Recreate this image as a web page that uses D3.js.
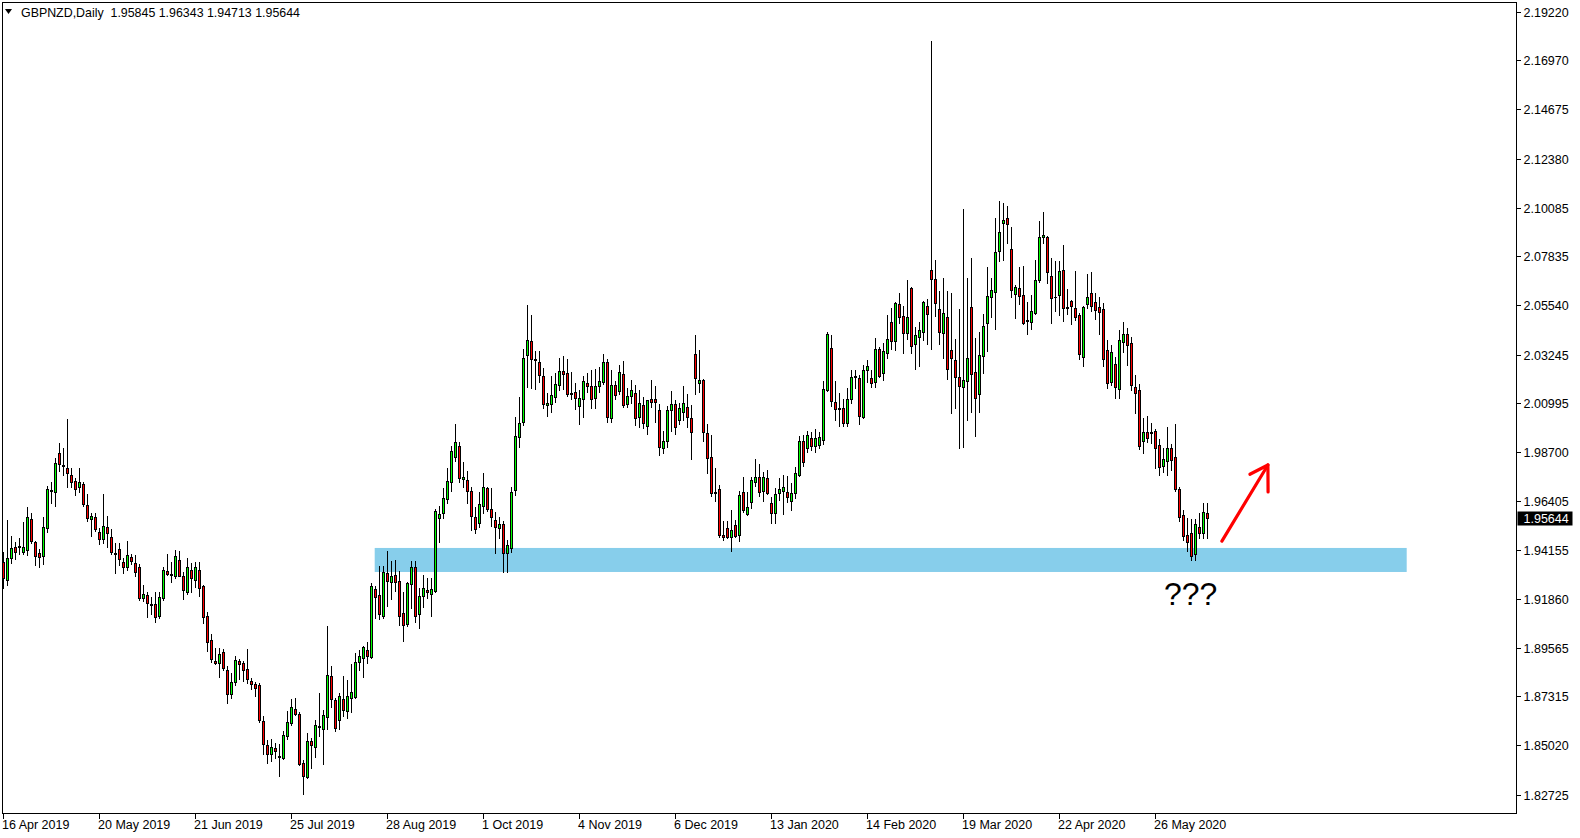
<!DOCTYPE html>
<html><head><meta charset="utf-8">
<script src="https://cdn.jsdelivr.net/npm/d3@7"></script>
<style>html,body{margin:0;padding:0;background:#fff;overflow:hidden}svg{display:block}</style>
</head><body>
<script>
// ---------- data ----------
const symbolTitle = "GBPNZD,Daily";
const lastQuote = [1.95845, 1.96343, 1.94713, 1.95644]; // O H L C of last bar
const dateLabels = ["16 Apr 2019","20 May 2019","21 Jun 2019","25 Jul 2019","28 Aug 2019","1 Oct 2019","4 Nov 2019","6 Dec 2019","13 Jan 2020","14 Feb 2020","19 Mar 2020","22 Apr 2020","26 May 2020"];
const dateLabelBar = [0,24,48,72,96,120,144,168,192,216,240,264,288];
const priceTicks = [2.19220,2.16970,2.14675,2.12380,2.10085,2.07835,2.05540,2.03245,2.00995,1.98700,1.96405,1.94155,1.91860,1.89565,1.87315,1.85020,1.82725];

const opens = [1.9357,1.9274,1.9376,1.9427,1.9432,1.9404,1.9413,1.9558,1.9451,1.9399,1.9385,1.9516,1.9693,1.9684,1.9866,1.9810,1.9796,1.9763,1.9735,1.9707,
1.9721,1.9623,1.9558,1.9567,1.9497,1.9465,1.9521,1.9474,1.9399,1.9418,1.9357,1.9334,1.9381,1.9353,1.9334,1.9190,1.9204,1.9162,1.9162,1.9106,
1.9190,1.9316,1.9297,1.9292,1.9367,1.9292,1.9218,1.9320,1.9274,1.9320,1.9246,1.9106,1.8994,1.8896,1.8886,1.8938,1.8854,1.8742,1.8798,1.8896,
1.8886,1.8858,1.8803,1.8789,1.8784,1.8616,1.8504,1.8462,1.8490,1.8453,1.8443,1.8546,1.8607,1.8672,1.8649,1.8420,1.8355,1.8523,1.8495,1.8593,
1.8579,1.8635,1.8826,1.8714,1.8621,1.8718,1.8663,1.8723,1.8728,1.8891,1.8910,1.8947,1.8914,1.9232,1.9204,1.9106,1.9306,1.9264,1.9297,1.9269,
1.9120,1.9069,1.9255,1.9334,1.9115,1.9199,1.9227,1.9208,1.9222,1.9562,1.9586,1.9651,1.9730,1.9847,1.9898,1.9744,1.9740,1.9689,1.9567,1.9539,
1.9618,1.9703,1.9605,1.9553,1.9516,1.9535,1.9399,1.9423,1.9693,1.9940,2.0010,2.0323,2.0388,2.0304,2.0290,2.0225,2.0090,2.0094,2.0127,2.0183,
2.0248,2.0239,2.0145,2.0150,2.0085,2.0118,2.0192,2.0178,2.0122,2.0178,2.0197,2.0290,2.0029,2.0183,2.0155,2.0234,2.0094,2.0132,2.0145,2.0034,
2.0090,1.9992,2.0118,2.0118,2.0066,1.9889,1.9922,2.0066,2.0094,2.0020,2.0057,2.0080,2.0029,2.0327,2.0192,2.0206,1.9959,1.9847,1.9684,1.9698,
1.9484,1.9516,1.9474,1.9530,1.9484,1.9684,1.9581,1.9637,1.9730,1.9754,1.9689,1.9749,1.9632,1.9586,1.9679,1.9689,1.9684,1.9642,1.9679,1.9763,
1.9922,1.9889,1.9936,1.9898,1.9903,1.9926,2.0159,2.0355,2.0104,2.0076,2.0076,2.0006,2.0118,2.0225,2.0215,2.0034,2.0253,2.0215,2.0197,2.0351,
2.0239,2.0332,2.0477,2.0388,2.0560,2.0505,2.0425,2.0635,2.0374,2.0407,2.0430,2.0551,2.0719,2.0677,2.0537,2.0425,2.0500,2.0346,2.0299,2.0220,
2.0173,2.0201,2.0547,2.0243,2.0141,2.0318,2.0472,2.0593,2.0617,2.0808,2.0938,2.0961,2.0817,2.0607,2.0635,2.0603,2.0486,2.0477,2.0519,2.0672,
2.0873,2.0873,2.0691,2.0593,2.0603,2.0719,2.0547,2.0575,2.0542,2.0509,2.0313,2.0561,2.0612,2.0570,2.0547,2.0537,2.0346,2.0197,2.0281,2.0164,
2.0383,2.0421,2.0379,2.0173,2.0159,1.9922,1.9964,1.9964,1.9968,1.9903,1.9805,1.9828,1.9889,1.9847,1.9698,1.9577,1.9484,1.9493,1.9395,1.9521,
1.9493,1.95845];

const highs = [1.9404,1.9553,1.9479,1.9451,1.9469,1.9544,1.9614,1.9586,1.9455,1.9418,1.9567,1.9712,1.9730,1.9842,1.9912,1.9889,2.0024,1.9796,1.9749,1.9796,
1.9730,1.9674,1.9586,1.9586,1.9516,1.9674,1.9572,1.9511,1.9446,1.9446,1.9376,1.9455,1.9395,1.9390,1.9348,1.9250,1.9218,1.9194,1.9218,1.9218,
1.9334,1.9395,1.9357,1.9413,1.9409,1.9311,1.9376,1.9353,1.9357,1.9357,1.9250,1.9124,1.9022,1.8956,1.8956,1.8952,1.8872,1.8840,1.8919,1.8905,
1.8896,1.8952,1.8817,1.8798,1.8793,1.8639,1.8527,1.8532,1.8513,1.8509,1.8569,1.8663,1.8718,1.8723,1.8658,1.8434,1.8560,1.8537,1.8621,1.8747,
1.8667,1.9059,1.8872,1.8723,1.8747,1.8826,1.8807,1.8882,1.8933,1.8947,1.8966,1.8984,1.9260,1.9246,1.9339,1.9339,1.9409,1.9362,1.9367,1.9316,
1.9218,1.9264,1.9362,1.9362,1.9236,1.9297,1.9283,1.9283,1.9605,1.9618,1.9703,1.9796,1.9898,2.0001,1.9917,1.9824,1.9782,1.9707,1.9614,1.9684,
1.9772,1.9707,1.9703,1.9591,1.9567,1.9549,1.9460,1.9707,2.0034,2.0127,2.0351,2.0556,2.0509,2.0341,2.0341,2.0262,2.0145,2.0225,2.0239,2.0309,
2.0318,2.0304,2.0243,2.0192,2.0159,2.0225,2.0239,2.0253,2.0257,2.0267,2.0327,2.0304,2.0253,2.0201,2.0276,2.0295,2.0169,2.0206,2.0183,2.0159,
2.0127,2.0113,2.0206,2.0178,2.0094,1.9968,2.0085,2.0155,2.0113,2.0099,2.0178,2.0141,2.0090,2.0416,2.0346,2.0211,2.0001,1.9950,1.9796,1.9716,
1.9549,1.9549,1.9600,1.9553,1.9689,1.9754,1.9684,1.9754,1.9838,1.9814,1.9777,1.9786,1.9660,1.9703,1.9749,1.9763,1.9758,1.9726,1.9800,1.9945,
1.9950,1.9968,1.9964,1.9978,1.9964,2.0201,2.0430,2.0416,2.0201,2.0145,2.0118,2.0169,2.0253,2.0253,2.0229,2.0276,2.0299,2.0253,2.0402,2.0360,
2.0379,2.0509,2.0542,2.0570,2.0612,2.0551,2.0672,2.0640,2.0453,2.0477,2.0575,2.0584,2.1787,2.0766,2.0621,2.0682,2.0621,2.0612,2.0397,2.0537,
2.1004,2.0682,2.0775,2.0402,2.0430,2.0514,2.0733,2.0682,2.0962,2.1041,2.1031,2.1017,2.0920,2.0649,2.0733,2.0738,2.0570,2.0603,2.0766,2.0947,
2.0989,2.0878,2.0775,2.0761,2.0761,2.0836,2.0630,2.0579,2.0715,2.0519,2.0551,2.0700,2.0710,2.0612,2.0593,2.0565,2.0393,2.0369,2.0313,2.0439,
2.0477,2.0449,2.0407,2.0229,2.0187,2.0029,2.0038,2.0006,1.9978,1.9931,1.9889,1.9987,1.9908,2.0001,1.9707,1.9600,1.9562,1.9558,1.9558,1.9586,
1.9632,1.96343];

const lows = [1.9236,1.9250,1.9353,1.9371,1.9395,1.9395,1.9390,1.9446,1.9343,1.9334,1.9348,1.9497,1.9632,1.9618,1.9782,1.9763,1.9707,1.9707,1.9670,1.9684,
1.9618,1.9549,1.9479,1.9502,1.9441,1.9446,1.9427,1.9395,1.9306,1.9343,1.9306,1.9320,1.9348,1.9292,1.9180,1.9176,1.9101,1.9115,1.9078,1.9097,
1.9180,1.9297,1.9264,1.9283,1.9297,1.9185,1.9208,1.9218,1.9241,1.9199,1.9073,1.8942,1.8891,1.8882,1.8821,1.8854,1.8700,1.8723,1.8784,1.8812,
1.8803,1.8793,1.8765,1.8733,1.8611,1.8462,1.8420,1.8429,1.8443,1.8359,1.8439,1.8532,1.8597,1.8644,1.8411,1.8276,1.8350,1.8397,1.8448,1.8546,
1.8415,1.8579,1.8681,1.8569,1.8579,1.8639,1.8630,1.8658,1.8723,1.8854,1.8821,1.8886,1.8910,1.9097,1.9092,1.9097,1.9153,1.9185,1.9222,1.9064,
1.8989,1.9059,1.9143,1.9078,1.9050,1.9148,1.9190,1.9106,1.9218,1.9451,1.9562,1.9632,1.9689,1.9828,1.9730,1.9707,1.9632,1.9507,1.9493,1.9521,
1.9586,1.9595,1.9526,1.9399,1.9469,1.9311,1.9311,1.9404,1.9670,1.9894,1.9997,2.0173,2.0169,2.0164,2.0197,2.0076,2.0038,2.0057,2.0104,2.0159,
2.0164,2.0132,2.0118,2.0071,2.0001,2.0034,2.0150,2.0076,2.0076,2.0150,2.0187,2.0010,2.0010,2.0118,2.0141,2.0080,2.0080,2.0099,1.9997,1.9987,
1.9982,1.9954,2.0080,2.0010,1.9856,1.9866,1.9894,1.9968,1.9954,2.0001,2.0020,1.9987,1.9838,2.0141,2.0150,1.9922,1.9772,1.9665,1.9642,1.9474,
1.9460,1.9469,1.9409,1.9474,1.9455,1.9591,1.9577,1.9609,1.9712,1.9665,1.9642,1.9674,1.9539,1.9539,1.9647,1.9581,1.9637,1.9600,1.9656,1.9758,
1.9805,1.9870,1.9880,1.9870,1.9889,1.9908,2.0155,2.0085,2.0020,1.9992,1.9992,1.9992,2.0099,2.0169,2.0001,2.0029,2.0197,2.0173,2.0173,2.0220,
2.0206,2.0309,2.0351,2.0346,2.0472,2.0332,2.0397,2.0332,2.0257,2.0271,2.0393,2.0374,2.0351,2.0505,2.0374,2.0309,2.0211,2.0052,2.0076,1.9889,
1.9894,2.0020,2.0057,1.9945,2.0057,2.0239,2.0341,2.0500,2.0444,2.0761,2.0766,2.0845,2.0593,2.0495,2.0561,2.0467,2.0421,2.0444,2.0514,2.0663,
2.0845,2.0658,2.0472,2.0528,2.0509,2.0481,2.0514,2.0467,2.0486,2.0304,2.0271,2.0542,2.0528,2.0491,2.0421,2.0271,2.0169,2.0183,2.0122,2.0122,
2.0337,2.0276,2.0159,2.0052,1.9884,1.9866,1.9917,1.9912,1.9796,1.9763,1.9777,1.9763,1.9786,1.9689,1.9549,1.9460,1.9409,1.9367,1.9367,1.9469,
1.9469,1.94713];

const closes = [1.9283,1.9376,1.9423,1.9404,1.9427,1.9427,1.9567,1.9455,1.9385,1.9381,1.9521,1.9698,1.9689,1.9819,1.9814,1.9805,1.9772,1.9730,1.9698,1.9730,
1.9628,1.9562,1.9572,1.9511,1.9465,1.9526,1.9493,1.9404,1.9395,1.9371,1.9334,1.9390,1.9362,1.9311,1.9190,1.9208,1.9166,1.9157,1.9101,1.9194,
1.9320,1.9302,1.9302,1.9385,1.9292,1.9227,1.9334,1.9283,1.9334,1.9236,1.9101,1.8984,1.8905,1.8886,1.8928,1.8863,1.8742,1.8798,1.8900,1.8882,
1.8854,1.8812,1.8789,1.8770,1.8621,1.8509,1.8462,1.8495,1.8476,1.8448,1.8551,1.8611,1.8681,1.8649,1.8415,1.8359,1.8523,1.8504,1.8597,1.8588,
1.8644,1.8831,1.8718,1.8583,1.8733,1.8667,1.8733,1.8751,1.8891,1.8919,1.8961,1.8919,1.9246,1.9194,1.9115,1.9311,1.9269,1.9292,1.9264,1.9106,
1.9064,1.9260,1.9334,1.9106,1.9199,1.9236,1.9218,1.9232,1.9595,1.9581,1.9656,1.9735,1.9875,1.9917,1.9749,1.9754,1.9689,1.9572,1.9511,1.9628,
1.9707,1.9605,1.9567,1.9521,1.9535,1.9399,1.9437,1.9684,1.9945,2.0006,2.0309,2.0393,2.0304,2.0299,2.0229,2.0094,2.0099,2.0136,2.0187,2.0248,
2.0234,2.0141,2.0141,2.0122,2.0122,2.0201,2.0178,2.0118,2.0178,2.0201,2.0290,2.0034,2.0183,2.0136,2.0243,2.0090,2.0132,2.0159,2.0029,2.0099,
2.0006,2.0113,2.0104,2.0104,1.9894,1.9922,2.0066,2.0094,1.9987,2.0076,2.0099,2.0034,1.9964,2.0215,2.0206,1.9964,1.9842,1.9679,1.9679,1.9484,
1.9474,1.9474,1.9507,1.9479,1.9670,1.9600,1.9614,1.9740,1.9754,1.9684,1.9754,1.9679,1.9586,1.9674,1.9698,1.9707,1.9660,1.9679,1.9772,1.9922,
1.9824,1.9950,1.9898,1.9936,1.9940,2.0164,2.0420,2.0108,2.0071,2.0071,2.0006,2.0118,2.0220,2.0220,2.0038,2.0253,2.0271,2.0192,2.0351,2.0225,
2.0341,2.0397,2.0388,2.0565,2.0500,2.0425,2.0500,2.0365,2.0416,2.0439,2.0570,2.0514,2.0677,2.0565,2.0430,2.0519,2.0257,2.0309,2.0220,2.0178,
2.0206,2.0309,2.0234,2.0122,2.0323,2.0458,2.0598,2.0626,2.0803,2.0896,2.0952,2.0933,2.0626,2.0640,2.0598,2.0472,2.0481,2.0528,2.0672,2.0873,
2.0882,2.0710,2.0589,2.0591,2.0715,2.0542,2.0541,2.0551,2.0500,2.0327,2.0547,2.0593,2.0551,2.0533,2.0523,2.0304,2.0192,2.0337,2.0173,2.0393,
2.0421,2.0370,2.0183,2.0145,1.9898,1.9964,1.9936,1.9959,1.9889,1.9800,1.9838,1.9889,1.9833,1.9698,1.9567,1.9479,1.9451,1.9385,1.9535,1.9493,
1.9591,1.95644];

// support zone: [start bar, end bar], [top price, bottom price]
const zoneBars = [92.8, 350.8];
const zonePrices = [1.9423, 1.9311];
// annotation "???" anchored at bar / price (baseline)
const noteText = "???";
const notePos = [290.1, 1.9157];
// red arrow: [bar, price] tail and tip
const arrowTail = [304.6, 1.9455];
const arrowTip = [316.1, 1.9810];

// ---------- drawing ----------
const W = 1580, H = 838;
const plotL = 2.5, plotR = 1516.5, plotT = 2.5, plotB = 813.5;
const FONT = "'Liberation Sans', Arial, sans-serif";

const svg = d3.select("body").append("svg").attr("width", W).attr("height", H)
  .style("background", "#fff");

const x = d3.scaleLinear().domain([0, 1]).range([3.5, 7.5]);
const y = d3.scaleLinear().domain([1.82725, 2.19220]).range([794.7, 12.0]);

const bars = opens.map((o, i) => ({i, o, h: highs[i], l: lows[i], c: closes[i]}));

svg.append("clipPath").attr("id", "plotclip").append("rect")
  .attr("x", plotL).attr("y", plotT).attr("width", plotR - plotL).attr("height", plotB - plotT);

const plot = svg.append("g").attr("clip-path", "url(#plotclip)");

// zone
plot.append("rect")
  .attr("x", x(zoneBars[0])).attr("y", y(zonePrices[0]))
  .attr("width", x(zoneBars[1]) - x(zoneBars[0]))
  .attr("height", y(zonePrices[1]) - y(zonePrices[0]))
  .attr("fill", "#87ceeb");

// candles
const cg = plot.append("g").attr("shape-rendering", "crispEdges");
const up = "#00ff00", dn = "#ff0000";
bars.forEach(b => {
  const cx = x(b.i);
  cg.append("line").attr("x1", cx).attr("x2", cx)
    .attr("y1", Math.round(y(b.h))).attr("y2", Math.round(y(b.l)) + 1)
    .attr("stroke", "#000").attr("stroke-width", 1);
  const yt = Math.round(y(Math.max(b.o, b.c)));
  const yb = Math.round(y(Math.min(b.o, b.c)));
  const hgt = Math.max(1, yb - yt + 1);
  cg.append("rect").attr("x", cx - 1.5).attr("y", yt).attr("width", 3).attr("height", hgt)
    .attr("fill", "#000");
  if (hgt > 2 && b.o !== b.c) {
    cg.append("rect").attr("x", cx - 0.5).attr("y", yt + 1).attr("width", 1).attr("height", hgt - 2)
      .attr("fill", b.c > b.o ? up : dn);
  }
});

// frame
svg.append("rect").attr("x", plotL).attr("y", plotT).attr("width", plotR - plotL).attr("height", plotB - plotT)
  .attr("fill", "none").attr("stroke", "#000").attr("shape-rendering", "crispEdges");

// price axis
const pa = svg.append("g");
priceTicks.forEach(p => {
  const yy = Math.round(y(p)) + 0.5;
  pa.append("line").attr("x1", plotR).attr("x2", plotR + 4).attr("y1", yy).attr("y2", yy)
    .attr("stroke", "#000").attr("shape-rendering", "crispEdges");
  pa.append("text").attr("x", plotR + 7).attr("y", yy).attr("dy", "0.35em")
    .attr("font-family", FONT).attr("font-size", 12.5).attr("fill", "#000")
    .text(p.toFixed(5));
});
// current price marker
const cy = Math.round(y(lastQuote[3])) + 0.5;
pa.append("rect").attr("x", plotR + 1).attr("y", cy - 7).attr("width", 55).attr("height", 14).attr("fill", "#000");
pa.append("text").attr("x", plotR + 7).attr("y", cy).attr("dy", "0.35em")
  .attr("font-family", FONT).attr("font-size", 12.5).attr("fill", "#fff").text(lastQuote[3].toFixed(5));

// date axis
const da = svg.append("g");
dateLabels.forEach((t, k) => {
  const xx = x(dateLabelBar[k]);
  da.append("line").attr("x1", xx).attr("x2", xx).attr("y1", plotB).attr("y2", plotB + 5)
    .attr("stroke", "#000").attr("shape-rendering", "crispEdges");
  da.append("text").attr("x", xx - 1.5).attr("y", 825).attr("dy", "0.35em")
    .attr("font-family", FONT).attr("font-size", 12.5).attr("fill", "#000").text(t);
});

// header
svg.append("path").attr("d", "M5,9 L12,9 L8.5,14 Z").attr("fill", "#000");
svg.append("text").attr("x", 21).attr("y", 12.5).attr("dy", "0.35em")
  .attr("font-family", FONT).attr("font-size", 12.4).attr("fill", "#000")
  .attr("xml:space", "preserve")
  .text(symbolTitle + "  " + lastQuote.map(v => v.toFixed(5)).join(" "));

// annotation
svg.append("text").attr("x", x(notePos[0])).attr("y", y(notePos[1]))
  .attr("font-family", FONT).attr("font-size", 32).attr("fill", "#000").text(noteText);

// arrow
const ax1 = x(arrowTail[0]), ay1 = y(arrowTail[1]), ax2 = x(arrowTip[0]), ay2 = y(arrowTip[1]);
const ang = Math.atan2(ay2 - ay1, ax2 - ax1);
const hl = 27, spread = 0.55;
const w1 = [ax2 - hl * Math.cos(ang - spread), ay2 - hl * Math.sin(ang - spread)];
const w2 = [ax2 - hl * 0.75 * Math.cos(ang + spread), ay2 - hl * 0.75 * Math.sin(ang + spread)];
svg.append("line").attr("x1", ax1).attr("y1", ay1).attr("x2", ax2).attr("y2", ay2)
  .attr("stroke", "#ff0000").attr("stroke-width", 3.2).attr("stroke-linecap", "round");
svg.append("path").attr("d", `M${w1[0]},${w1[1]} L${ax2},${ay2} L${w2[0]},${w2[1]}`)
  .attr("fill", "none").attr("stroke", "#ff0000").attr("stroke-width", 3.2)
  .attr("stroke-linecap", "round").attr("stroke-linejoin", "round");
</script>
</body></html>
